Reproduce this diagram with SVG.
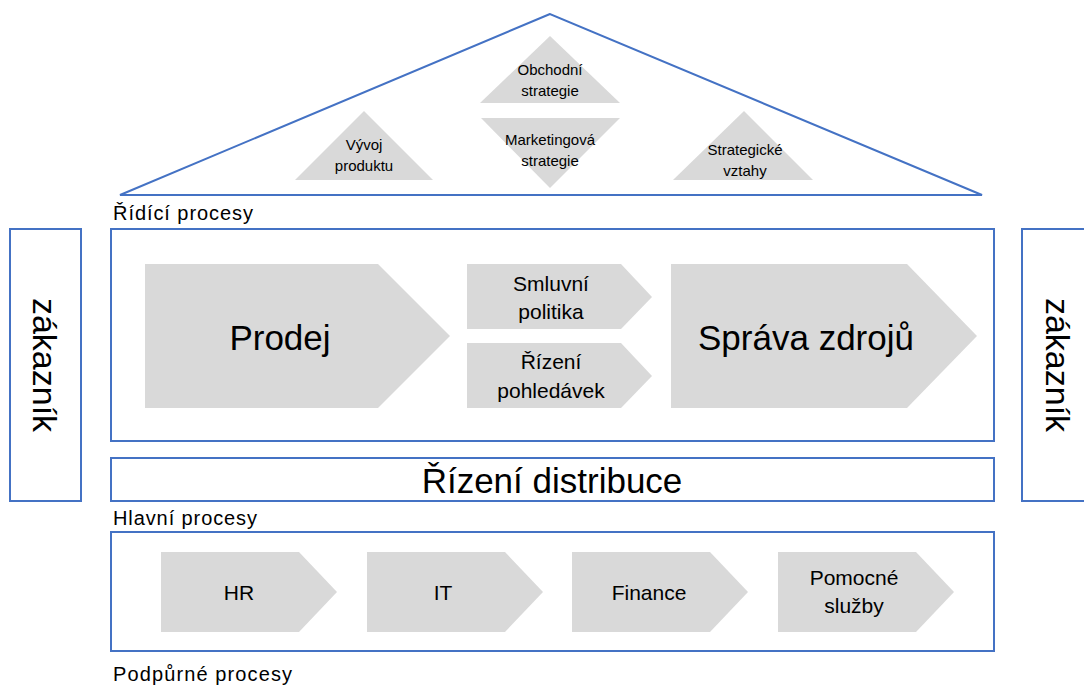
<svg xmlns="http://www.w3.org/2000/svg" width="1084" height="685" viewBox="0 0 1084 685">
  <style>
    .frame { fill: #ffffff; stroke: #4472c4; stroke-width: 2; }
    .roof { fill: #ffffff; stroke: #4472c4; stroke-width: 2; stroke-linejoin: miter; }
    .shape { fill: #d9d9d9; stroke: none; }
    text { font-family: "Liberation Sans", Arial, sans-serif; fill: #000000; text-anchor: middle; }
    .lbl { font-size: 20px; text-anchor: start; }
    .small { font-size: 15px; }
    .mid { font-size: 21px; }
    .big { font-size: 35px; }
    .side { font-size: 34px; }
  </style>

  <!-- roof: management processes -->
  <g id="roof">
    <polygon class="roof" points="550,14 120,195 982,195"/>
  </g>
  <g id="obchodni-strategie">
    <polygon class="shape" points="550,36 480,103 620,103"/>
    <text class="small" x="550" y="75">Obchodní</text>
    <text class="small" x="550" y="96">strategie</text>
  </g>
  <g id="marketingova-strategie">
    <polygon class="shape" points="481,118 620,118 550,188"/>
    <text class="small" x="550" y="145">Marketingová</text>
    <text class="small" x="550" y="166">strategie</text>
  </g>
  <g id="vyvoj-produktu">
    <polygon class="shape" points="364,111 295,180 433,180"/>
    <text class="small" x="364" y="150">Vývoj</text>
    <text class="small" x="364" y="171">produktu</text>
  </g>
  <g id="strategicke-vztahy">
    <polygon class="shape" points="744,111 673,180 813,180"/>
    <text class="small" x="745" y="155">Strategické</text>
    <text class="small" x="745" y="176">vztahy</text>
  </g>
  <text class="lbl" x="113" y="220" textLength="140">Řídící procesy</text>

  <!-- customer columns -->
  <g id="zakaznik-left">
    <rect class="frame" x="10" y="229" width="71" height="272"/>
    <text class="side" transform="translate(33,365) rotate(90)">zákazník</text>
  </g>
  <g id="zakaznik-right">
    <rect class="frame" x="1022" y="229" width="80" height="272"/>
    <text class="side" transform="translate(1046,365) rotate(90)">zákazník</text>
  </g>

  <!-- main processes -->
  <g id="hlavni-procesy">
    <rect class="frame" x="111" y="229" width="883" height="212"/>
  </g>
  <g id="prodej">
    <polygon class="shape" points="145,264 378,264 450,336 378,408 145,408"/>
    <text class="big" x="280" y="350">Prodej</text>
  </g>
  <g id="smluvni-politika">
    <polygon class="shape" points="467,264 621,264 652,297 621,329 467,329"/>
    <text class="mid" x="551" y="291">Smluvní</text>
    <text class="mid" x="551" y="319">politika</text>
  </g>
  <g id="rizeni-pohledavek">
    <polygon class="shape" points="467,343 621,343 652,376 621,408 467,408"/>
    <text class="mid" x="551" y="369">Řízení</text>
    <text class="mid" x="551" y="398">pohledávek</text>
  </g>
  <g id="sprava-zdroju">
    <polygon class="shape" points="671,264 907,264 977,336 907,408 671,408"/>
    <text class="big" x="806" y="350">Správa zdrojů</text>
  </g>
  <g id="rizeni-distribuce">
    <rect class="frame" x="111" y="458" width="883" height="43"/>
    <text class="big" x="552" y="493">Řízení distribuce</text>
  </g>
  <text class="lbl" x="113" y="525" textLength="144">Hlavní procesy</text>

  <!-- support processes -->
  <g id="podpurne-procesy">
    <rect class="frame" x="111" y="532" width="883" height="119"/>
  </g>
  <g id="hr">
    <polygon class="shape" points="161,552 299,552 337,592 299,632 161,632"/>
    <text class="mid" x="239" y="600">HR</text>
  </g>
  <g id="it">
    <polygon class="shape" points="367,552 505,552 543,592 505,632 367,632"/>
    <text class="mid" x="443" y="600">IT</text>
  </g>
  <g id="finance">
    <polygon class="shape" points="572,552 710,552 748,592 710,632 572,632"/>
    <text class="mid" x="649" y="600">Finance</text>
  </g>
  <g id="pomocne-sluzby">
    <polygon class="shape" points="778,552 916,552 954,592 916,632 778,632"/>
    <text class="mid" x="854" y="585">Pomocné</text>
    <text class="mid" x="854" y="613">služby</text>
  </g>
  <text class="lbl" x="113" y="681" textLength="179">Podpůrné procesy</text>

  <g id="connectors"/>
</svg>
